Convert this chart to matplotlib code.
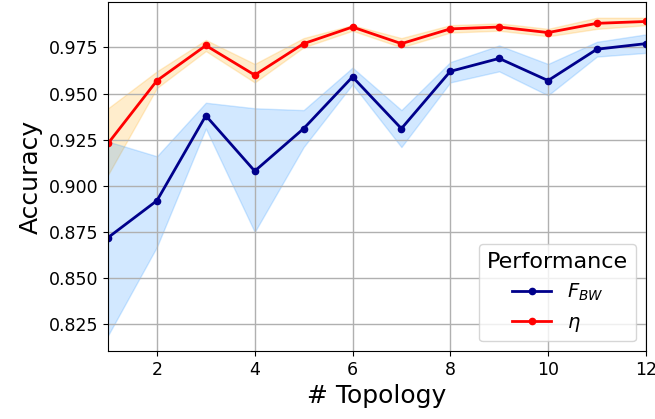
import numpy as np
import matplotlib
matplotlib.use("Agg")
import matplotlib.pyplot as plt

# topology index
topology = [1, 2, 3, 4, 5, 6, 7, 8, 9, 10, 11, 12]

# F_BW accuracy (mean, lower band, upper band)
fbw_mean = [0.872, 0.892, 0.938, 0.908, 0.931, 0.959, 0.931, 0.962, 0.969, 0.957, 0.974, 0.977]
fbw_low = [0.819, 0.867, 0.931, 0.875, 0.921, 0.955, 0.921, 0.956, 0.962, 0.949, 0.970, 0.972]
fbw_high = [0.924, 0.916, 0.945, 0.942, 0.941, 0.964, 0.941, 0.967, 0.976, 0.966, 0.978, 0.982]

# eta accuracy (mean, lower band, upper band)
eta_mean = [0.923, 0.957, 0.976, 0.960, 0.977, 0.986, 0.977, 0.985, 0.986, 0.983, 0.988, 0.989]
eta_low = [0.906, 0.953, 0.973, 0.956, 0.975, 0.984, 0.975, 0.983, 0.984, 0.981, 0.985, 0.987]
eta_high = [0.942, 0.962, 0.979, 0.966, 0.980, 0.987, 0.980, 0.987, 0.988, 0.985, 0.991, 0.991]

fig, ax = plt.subplots(figsize=(6.55, 4.19), dpi=100)
fig.subplots_adjust(left=0.165, right=0.986, top=0.995, bottom=0.162)

# shaded bands (edges left on, like the default)
ax.fill_between(topology, eta_low, eta_high, color='orange', alpha=0.2)
ax.fill_between(topology, fbw_low, fbw_high, color='dodgerblue', alpha=0.2)
ax.plot(topology, fbw_mean, color='darkblue', marker='o', markersize=4.5, linewidth=2, label=r'$F_{BW}$')
ax.plot(topology, eta_mean, color='red', marker='o', markersize=4.5, linewidth=2, label=r'$\eta$')

ax.set_xlim(1, 12)
ax.set_ylim(0.8105, 0.9995)
ax.set_xticks([2, 4, 6, 8, 10, 12])
ax.set_yticks([0.825, 0.850, 0.875, 0.900, 0.925, 0.950, 0.975])
ax.yaxis.set_major_formatter(matplotlib.ticker.FormatStrFormatter('%.3f'))
ax.tick_params(labelsize=12.5)
ax.grid(True, color='#b0b0b0', linewidth=1)
ax.set_xlabel('# Topology', fontsize=18)
ax.set_ylabel('Accuracy', fontsize=18)

leg = ax.legend(title='Performance', loc='lower right', fontsize=14, title_fontsize=16)

fig.savefig('out.png', dpi=100)
